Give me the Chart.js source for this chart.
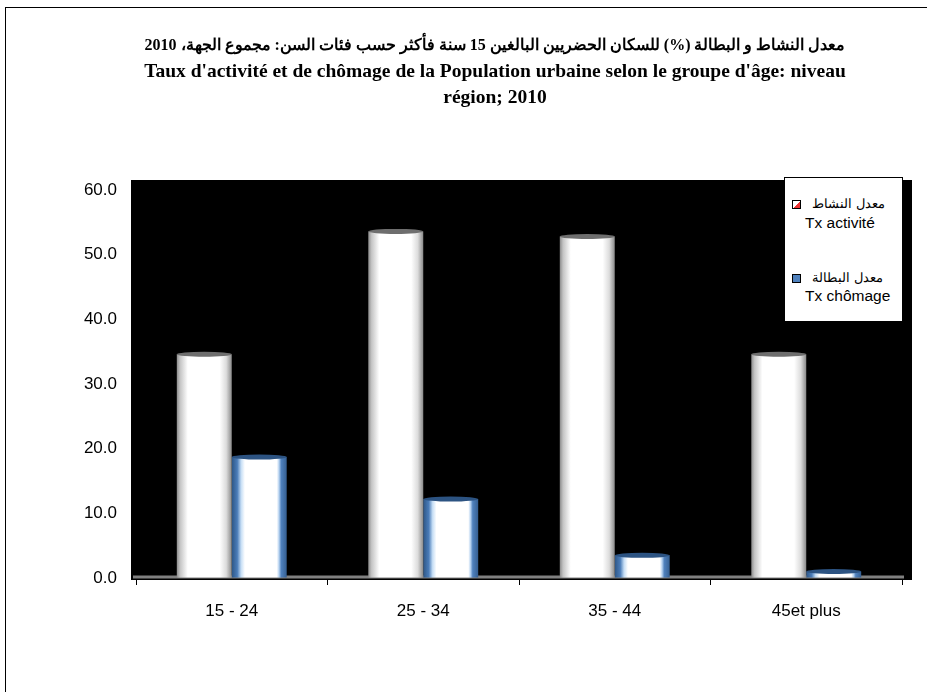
<!DOCTYPE html>
<html>
<head>
<meta charset="utf-8">
<script src="https://cdn.jsdelivr.net/npm/chart.js@4.4.1/dist/chart.umd.min.js"></script>
<style>
    body { margin: 0; background: #fff; overflow: hidden; }
    #wrap { position: relative; width: 927px; height: 692px; }
    #frame { position: absolute; left: 5px; top: 7px; width: 1000px; height: 1000px;
             border-left: 1.5px solid #000; border-top: 1.5px solid #000; }
    #title { position: absolute; left: 88px; width: 814px; top: 32px; text-align: center;
             font-family: "Liberation Serif", "DejaVu Serif", serif; font-weight: bold; line-height: 26px; color: #000; }
    #title .ar { font-size: 16px; }
    #title .fr { font-size: 19.5px; }
    #legend { position: absolute; left: 784px; top: 177px; width: 117px; height: 143px;
              background: #fff; border: 1px solid #000; font-family: "Liberation Sans", Arial, sans-serif; }
    .row { position: absolute; left: 0; white-space: nowrap; }
    .row.ar { font-size: 13px; }
    .row.fr { font-size: 15.5px; left: 20px; }
    .mk { display: inline-block; width: 7px; height: 7px; border: 1px solid #000; vertical-align: middle; margin: 0 11px 0 7px; }
    canvas { position: absolute; left: 0; top: 0; }
</style>
</head>
<body>
<div id="wrap">
    <div id="frame"></div>
    <canvas id="chart" width="927" height="692"></canvas>
    <div id="title">
        <div class="ar" dir="rtl">معدل النشاط و البطالة (%) للسكان الحضريين البالغين 15 سنة فأكثر حسب فئات السن: مجموع الجهة، 2010</div>
        <div class="fr">Taux d'activité et de chômage de la Population urbaine selon le groupe d'âge: niveau</div>
        <div class="fr">région; 2010</div>
    </div>
    <div id="legend"></div>
</div>
<script>
// values
const categories = ['15 - 24', '25 - 34', '35 - 44', '45et plus'];
const activite = [34.6, 53.6, 52.8, 34.6];
const chomage = [18.7, 12.2, 3.5, 1.0];
const seriesAr = ['معدل النشاط', 'معدل البطالة'];
const seriesFr = ['Tx activité', 'Tx chômage'];

const catPct = 0.574;

// horizontal gradient so the bars look like cylinders
function cylinder(stops) {
    return function(ctx) {
        const chart = ctx.chart;
        const x = chart.scales.x;
        if (!chart.chartArea || !x || ctx.dataIndex === undefined) return '#fff';
        const center = x.getPixelForValue(ctx.dataIndex);
        const catW = (x.right - x.left) / categories.length;
        const groupW = catW * catPct;
        const barW = groupW / 2;
        const left = center - groupW / 2 + ctx.datasetIndex * barW;
        const g = chart.ctx.createLinearGradient(left, 0, left + barW, 0);
        stops.forEach(s => g.addColorStop(s[0], s[1]));
        return g;
    };
}

const greyStops = [[0, '#8c8c8c'], [0.06, '#c4c4c4'], [0.2, '#ffffff'], [0.78, '#ffffff'], [0.9, '#dcdcdc'], [1, '#8a8a8a']];
const blueStops = [[0, '#2d5686'], [0.1, '#4a7cb8'], [0.17, '#c6def5'], [0.24, '#ffffff'], [0.82, '#ffffff'], [0.86, '#b6d2f0'], [0.9, '#4f81bd'], [1, '#355f92']];

const backdrop = {
    id: 'backdrop',
    beforeDraw(chart) {
        const a = chart.chartArea;
        const c = chart.ctx;
        c.save();
        c.fillStyle = '#000';
        c.fillRect(a.left - 5, a.top - 10, a.right - a.left + 15, a.bottom - a.top + 12);
        c.restore();
    },
    beforeDatasetsDraw(chart) {
        const a = chart.chartArea;
        const c = chart.ctx;
        c.save();
        c.strokeStyle = '#808080';
        c.lineWidth = 3;
        c.beginPath();
        c.moveTo(a.left - 3, a.bottom - 1);
        c.lineTo(a.right + 2, a.bottom - 1);
        c.stroke();
        c.restore();
    },
    afterDatasetsDraw(chart) {
        const c = chart.ctx;
        const rims = ['#6e6e6e', '#2c5382'];
        chart.data.datasets.forEach((ds, i) => {
            chart.getDatasetMeta(i).data.forEach(bar => {
                c.save();
                c.beginPath();
                c.ellipse(bar.x, bar.y, bar.width / 2, 2.5, 0, 0, Math.PI * 2);
                c.fillStyle = rims[i];
                c.fill();
                c.restore();
            });
        });
    }
};

new Chart(document.getElementById('chart'), {
    type: 'bar',
    data: {
        labels: categories,
        datasets: [
            { label: seriesFr[0], data: activite, backgroundColor: cylinder(greyStops), borderWidth: 0 },
            { label: seriesFr[1], data: chomage, backgroundColor: cylinder(blueStops), borderWidth: 0 }
        ]
    },
    options: {
        responsive: false,
        animation: false,
        layout: { padding: { left: 60, right: 25, top: 190, bottom: 70 } },
        datasets: { bar: { categoryPercentage: catPct, barPercentage: 1 } },
        plugins: {
            legend: { display: false },
            tooltip: { enabled: false }
        },
        scales: {
            x: {
                grid: { offset: true, drawOnChartArea: false, tickLength: 7, color: '#000' },
                border: { color: '#000' },
                ticks: { color: '#000', padding: 16, font: { family: 'Liberation Sans', size: 17 } },
                afterFit: s => { s.height = 44; }
            },
            y: {
                min: 0,
                max: 60,
                grid: { drawOnChartArea: false, tickLength: 4, color: '#000' },
                border: { color: '#000' },
                ticks: {
                    stepSize: 10,
                    color: '#000',
                    padding: 15,
                    font: { family: 'Liberation Sans', size: 17 },
                    callback: v => v.toFixed(1)
                },
                afterFit: s => { s.width = 76; }
            }
        }
    },
    plugins: [backdrop]
});

// legend box as real text
const legend = document.getElementById('legend');
const markers = ['background: linear-gradient(135deg, #fff 55%, #e33 56%);', 'background: #4f81bd;'];
const rowTops = [[18, 36], [92, 109]];
seriesAr.forEach((name, i) => {
    const ar = document.createElement('div');
    ar.className = 'row ar';
    ar.style.top = rowTops[i][0] + 'px';
    ar.innerHTML = '<span class="mk" style="' + markers[i] + '"></span><span dir="rtl">' + name + '</span>';
    legend.appendChild(ar);
    const fr = document.createElement('div');
    fr.className = 'row fr';
    fr.style.top = rowTops[i][1] + 'px';
    fr.textContent = seriesFr[i];
    legend.appendChild(fr);
});
</script>
</body>
</html>
